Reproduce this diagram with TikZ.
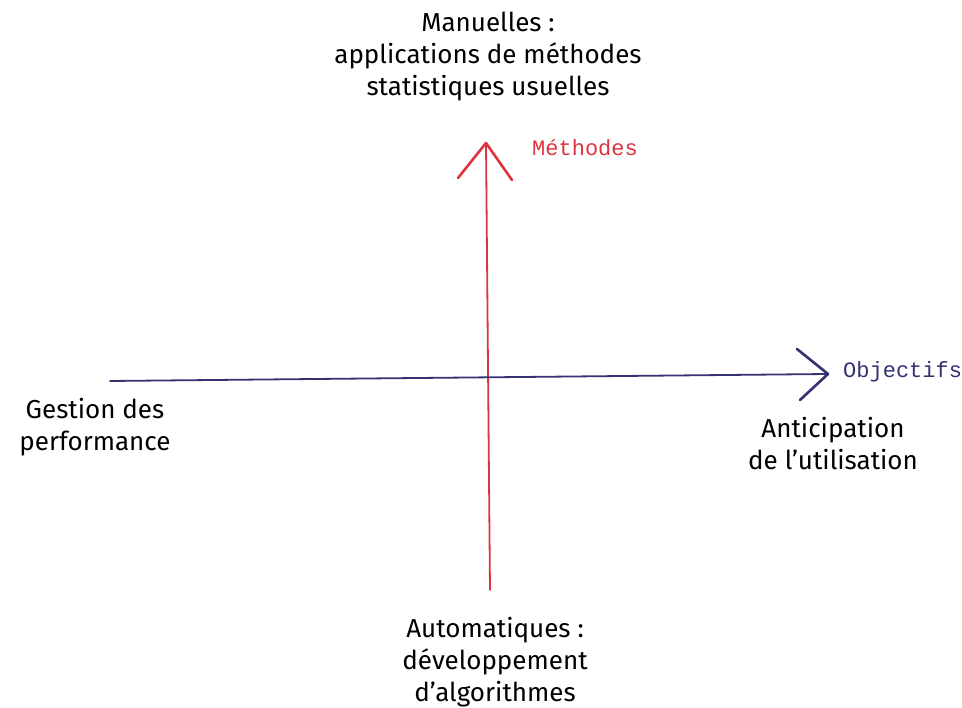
\documentclass[tikz,border=0pt]{standalone}
\usepackage{fontspec}
\setmainfont{Fira Sans}
\newfontfamily\monof{Liberation Mono}
\definecolor{axred}{RGB}{222,52,64}
\definecolor{axblue}{RGB}{52,50,112}
\tikzset{
  lbl/.style={font=\fontsize{26}{32}\selectfont, align=center, text=black, inner sep=0pt},
  axlbl/.style={font=\monof\fontsize{22}{24}\selectfont, inner sep=0pt, anchor=west},
  axline/.style={line width=1.8pt, line cap=round},
  tipline/.style={line width=2.6pt, line cap=round, line join=round}
}
\begin{document}
\begin{tikzpicture}[x=1pt,y=-1pt]
\useasboundingbox (0,0) rectangle (962,708);
% coordinates
\coordinate (vtop) at (486,143);
\coordinate (vbot) at (490,590);
\coordinate (vl) at (458,178);
\coordinate (vr) at (512,180);
\coordinate (hleft) at (110,381);
\coordinate (hright) at (828,374);
\coordinate (hu) at (797,349);
\coordinate (hd) at (800,400);
% axes
\draw[axline, axred] (vbot) -- (vtop);
\draw[tipline, axred] (vl) -- (vtop) -- (vr);
\draw[axline, axblue] (hleft) -- (hright);
\draw[tipline, axblue] (hu) -- (hright) -- (hd);
% labels
\node[axlbl, text=axred] (meth) at (532,148) {Méthodes};
\node[axlbl, text=axblue] (obj) at (843,372) {Objectifs};
\node[lbl] (top) at (488,57) {Manuelles :\\applications de méthodes\\statistiques usuelles};
\node[lbl] (left) at (95,427) {Gestion des\\performance};
\node[lbl] (right) at (833,444) {Anticipation\\de l’utilisation};
\node[lbl] (bot) at (495,662) {Automatiques :\\développement\\d’algorithmes};
\end{tikzpicture}
\end{document}
